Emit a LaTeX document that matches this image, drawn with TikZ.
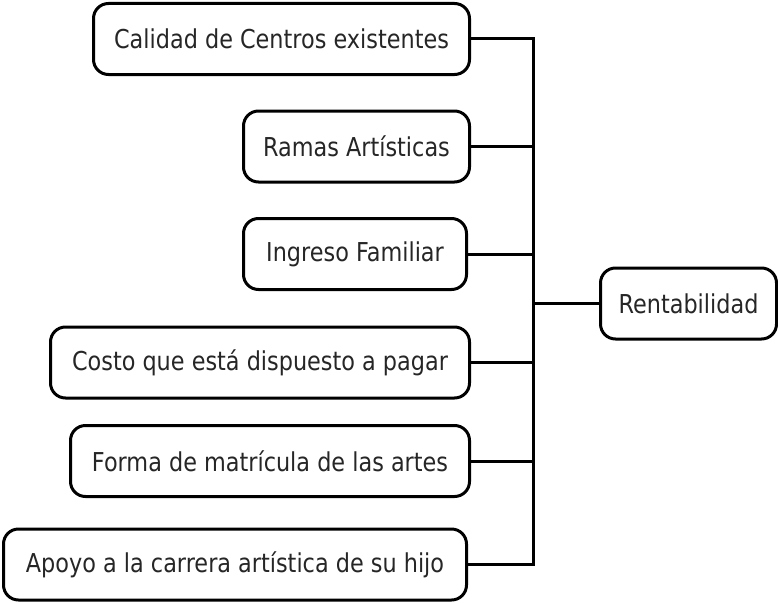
\documentclass[tikz,border=0pt]{standalone}
\usepackage{fontspec}
\setmainfont[FakeStretch=0.86]{DejaVu Sans}
\begin{document}
\begin{tikzpicture}[x=1pt,y=-1pt,
  box/.style={draw=black, line width=3pt, rounded corners=15pt, fill=white,
    minimum height=71pt, inner sep=0pt, text=black!85,
    font=\fontsize{26}{30}\selectfont},
  link/.style={draw=black, line width=3pt}]
\useasboundingbox (0,0) rectangle (778,602);
\node[box, minimum width=376pt] (cal) at (281.5,39) {Calidad de Centros existentes};
\node[box, minimum width=226pt] (ram) at (356.5,146.5) {Ramas Artísticas};
\node[box, minimum width=223pt] (ing) at (355,254) {Ingreso Familiar};
\node[box, minimum width=419pt] (cos) at (260,362.5) {Costo que está dispuesto a pagar};
\node[box, minimum width=399pt] (for) at (270,461) {Forma de matrícula de las artes};
\node[box, minimum width=463pt] (apo) at (235,564.5) {Apoyo a la carrera artística de su hijo};
\node[box, minimum width=176pt] (ren) at (688.5,303.5) {Rentabilidad};
\coordinate (spine) at (533,303.5);
\draw[link] (cal.east) -- (cal.east -| spine) -- (apo.east -| spine) -- (apo.east);
\draw[link] (ram.east) -- (ram.east -| spine);
\draw[link] (ing.east) -- (ing.east -| spine);
\draw[link] (cos.east) -- (cos.east -| spine);
\draw[link] (for.east) -- (for.east -| spine);
\draw[link] (spine) -- (ren.west);
\end{tikzpicture}
\end{document}
